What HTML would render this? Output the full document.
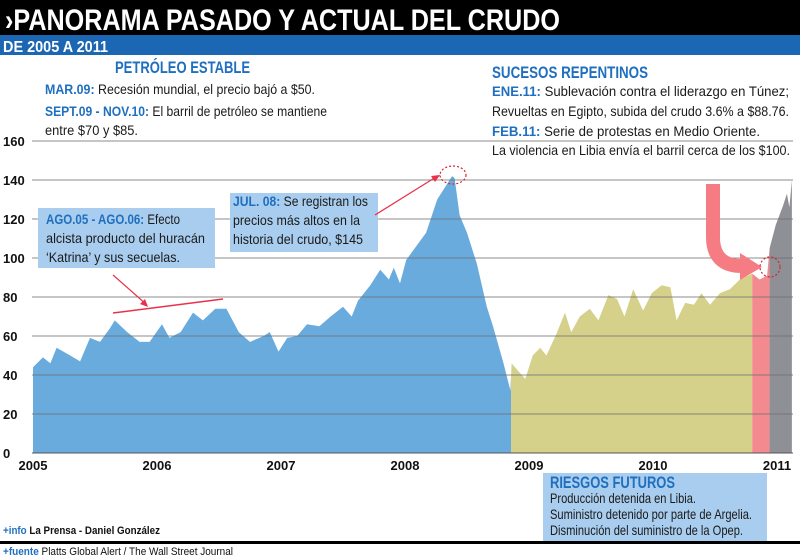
<!DOCTYPE html>
<html><head><meta charset="utf-8"><style>
html,body{margin:0;padding:0;background:#fff;}
svg{display:block;font-family:"Liberation Sans Narrow","Liberation Sans",sans-serif;}
.b{fill:#1f6fc0;font-weight:bold;}
.t{fill:#1a1a1a;font-size:14px;}
</style></head><body>
<svg id="chart" width="800" height="560" viewBox="0 0 800 560">
  <rect x="0" y="0" width="800" height="35" fill="#000"/>
  <text x="5" y="30" fill="#fff" font-size="30" font-weight="bold" textLength="555" lengthAdjust="spacingAndGlyphs">›PANORAMA PASADO Y ACTUAL DEL CRUDO</text>
  <rect x="0" y="35" width="800" height="20" fill="#1c67b3"/>
  <text x="3" y="52" fill="#fff" font-size="16" font-weight="bold" textLength="105" lengthAdjust="spacingAndGlyphs">DE 2005 A 2011</text>

  <g id="areas"></g>
  <g id="grid"></g>
  <g id="yticks"></g>
  <g id="xticks"></g>

  <text x="115" y="73" class="b" font-size="17" textLength="135" lengthAdjust="spacingAndGlyphs">PETRÓLEO ESTABLE</text>
  <text x="45" y="94" class="t" textLength="270" lengthAdjust="spacingAndGlyphs"><tspan class="b">MAR.09:</tspan> Recesión mundial, el precio bajó a $50.</text>
  <text x="45" y="116" class="t" textLength="282" lengthAdjust="spacingAndGlyphs"><tspan class="b">SEPT.09 - NOV.10:</tspan> El barril de petróleo se mantiene</text>
  <text x="45" y="135" class="t" textLength="93" lengthAdjust="spacingAndGlyphs">entre $70 y $85.</text>

  <text x="492" y="78" class="b" font-size="17" textLength="156" lengthAdjust="spacingAndGlyphs">SUCESOS REPENTINOS</text>
  <text x="492" y="96" class="t" textLength="297" lengthAdjust="spacingAndGlyphs"><tspan class="b">ENE.11:</tspan> Sublevación contra el liderazgo en Túnez;</text>
  <text x="492" y="116" class="t" textLength="297" lengthAdjust="spacingAndGlyphs">Revueltas en Egipto, subida del crudo 3.6% a $88.76.</text>
  <text x="492" y="136" class="t" textLength="268" lengthAdjust="spacingAndGlyphs"><tspan class="b">FEB.11:</tspan> Serie de protestas en Medio Oriente.</text>
  <text x="492" y="155" class="t" textLength="298" lengthAdjust="spacingAndGlyphs">La violencia en Libia envía el barril cerca de los $100.</text>

  <rect x="38" y="208" width="177" height="60" fill="#a9cdee"/>
  <text x="46" y="224" class="t" textLength="134" lengthAdjust="spacingAndGlyphs"><tspan class="b">AGO.05 - AGO.06:</tspan> Efecto</text>
  <text x="46" y="243" class="t" textLength="159" lengthAdjust="spacingAndGlyphs">alcista producto del huracán</text>
  <text x="46" y="262" class="t" textLength="134" lengthAdjust="spacingAndGlyphs">‘Katrina’ y sus secuelas.</text>
  <line x1="113" y1="313" x2="223" y2="299" stroke="#e8324a" stroke-width="1.5"/>
  <line x1="113" y1="275" x2="147" y2="305" stroke="#e8324a" stroke-width="1.2"/>
  <polygon points="148,307 140,304 145,299" fill="#e8324a"/>

  <rect x="230" y="193" width="148" height="59" fill="#a9cdee"/>
  <text x="233" y="206" class="t" textLength="135" lengthAdjust="spacingAndGlyphs"><tspan class="b">JUL. 08:</tspan> Se registran los</text>
  <text x="233" y="225" class="t" textLength="127" lengthAdjust="spacingAndGlyphs">precios más altos en la</text>
  <text x="233" y="244" class="t" textLength="130" lengthAdjust="spacingAndGlyphs">historia del crudo, $145</text>
  <line x1="375" y1="215" x2="436" y2="177" stroke="#e8324a" stroke-width="1.2"/>
  <polygon points="440,175 431,176 435,182" fill="#e8324a"/>
  <ellipse cx="453" cy="175" rx="13" ry="9" fill="none" stroke="#d9232e" stroke-width="1.2" stroke-dasharray="2,2"/>

  <path d="M713,184 V237 Q713,266 742,266" fill="none" stroke="#f47c82" stroke-width="14"/>
  <polygon points="740,253 762,267 740,280" fill="#f47c82"/>
  <circle cx="770" cy="267" r="10" fill="none" stroke="#d9232e" stroke-width="1.2" stroke-dasharray="2,2"/>

  <rect x="543" y="473" width="224" height="69" fill="#a9cdee"/>
  <text x="550" y="488" class="b" font-size="17" textLength="125" lengthAdjust="spacingAndGlyphs">RIESGOS FUTUROS</text>
  <text x="550" y="503" class="t" font-size="13" textLength="146" lengthAdjust="spacingAndGlyphs">Producción detenida en Libia.</text>
  <text x="550" y="519" class="t" font-size="13" textLength="202" lengthAdjust="spacingAndGlyphs">Suministro detenido por parte de Argelia.</text>
  <text x="550" y="535" class="t" font-size="13" textLength="193" lengthAdjust="spacingAndGlyphs">Disminución del suministro de la Opep.</text>
  <rect x="0" y="541" width="800" height="3" fill="#000"/>

  <text x="3" y="534" font-size="11" font-weight="bold" fill="#111" textLength="157" lengthAdjust="spacingAndGlyphs"><tspan fill="#1f6fc0">+info</tspan> La Prensa - Daniel González</text>
  <text x="3" y="555" font-size="11" fill="#111" textLength="230" lengthAdjust="spacingAndGlyphs"><tspan fill="#1f6fc0" font-weight="bold">+fuente</tspan> Platts Global Alert / The Wall Street Journal</text>
</svg>
<script>
const dates = [2005.00,2005.08,2005.14,2005.19,2005.30,2005.38,2005.46,2005.54,2005.62,2005.66,2005.76,2005.86,2005.94,2006.04,2006.10,2006.19,2006.29,2006.37,2006.47,2006.56,2006.66,2006.75,2006.86,2006.91,2006.98,2007.05,2007.13,2007.21,2007.31,2007.40,2007.50,2007.57,2007.62,2007.72,2007.80,2007.87,2007.91,2007.96,2008.01,2008.09,2008.17,2008.26,2008.31,2008.38,2008.40,2008.44,2008.50,2008.58,2008.66,2008.71,2008.79,2008.85,2008.86,2008.90,2008.97,2009.03,2009.09,2009.14,2009.22,2009.29,2009.34,2009.41,2009.49,2009.56,2009.64,2009.71,2009.77,2009.84,2009.92,2009.99,2010.07,2010.14,2010.19,2010.26,2010.33,2010.39,2010.46,2010.54,2010.62,2010.70,2010.80,2010.86,2010.92,2010.94,2010.99,2011.05,2011.08,2011.10,2011.12];
const prices = [44,49,46,54,50,47,59,57,64,68,62,57,57,66,59,62,72,68,74,74,62,57,60,62,52,59,60,66,65,70,75,70,78,86,94,89,95,87,99,106,113,130,135,142,141,122,113,97,75,65,47,32,46,43,38,50,54,50,61,72,62,70,74,68,81,79,70,84,73,82,86,85,68,77,76,82,76,82,84,89,92,89,91,105,117,127,133,126,140];
const periodStarts = [2005.00,2008.855,2010.80,2010.94];
const periodEnds = [2008.855,2010.80,2010.94,2011.13];
const periodColors = ['#6aabdd','#d5d08a','#f28a8f','#8f9095'];
const yTicks = [0,20,40,60,80,100,120,140,160];
const xTickYears = [2005,2006,2007,2008,2009,2010,2011];

const NS='http://www.w3.org/2000/svg';
const x = t => 33 + (t-2005)*124;
const y = v => 453 - v*1.95;
function mk(tag, attrs, parent){const e=document.createElementNS(NS,tag);for(const k in attrs)e.setAttribute(k,attrs[k]);parent.appendChild(e);return e;}

const grid=document.getElementById('grid'), yt=document.getElementById('yticks'), xt=document.getElementById('xticks'), areas=document.getElementById('areas');
yTicks.forEach(v=>{
  if(v>0){const l=mk('line',{x1:32,x2:793,y1:y(v),y2:y(v),stroke:'#6f6f6f','stroke-width':1,'stroke-opacity':0.8},grid);
  
  }
  const t=mk('text',{x:3,y:y(v)+5,'font-size':13,'font-weight':'bold',fill:'#111'},yt);
  t.textContent=v;
  
  
});
xTickYears.forEach(yr=>{
  const t=mk('text',{x:x(yr),y:470,'text-anchor':'middle','font-size':13,'font-weight':'bold',fill:'#111'},xt);
  t.textContent=yr;
  
  
});

let d='M'+x(dates[0])+','+y(0);
dates.forEach((t,i)=>{d+=' L'+x(t).toFixed(1)+','+y(prices[i]).toFixed(1);});
d+=' L'+x(dates[dates.length-1])+','+y(0)+' Z';
const defs=mk('defs',{},areas);
periodStarts.forEach((s,i)=>{
  const cp=mk('clipPath',{id:'cp'+i},defs);
  mk('rect',{x:x(s),y:0,width:x(periodEnds[i])-x(s),height:460},cp);
  const p=mk('path',{d:d,fill:periodColors[i],'clip-path':'url(#cp'+i+')'},areas);
  
  
});
const base=mk('line',{x1:32,x2:793,y1:y(0),y2:y(0),stroke:'#555','stroke-width':1},grid);


</script>
</body></html>
